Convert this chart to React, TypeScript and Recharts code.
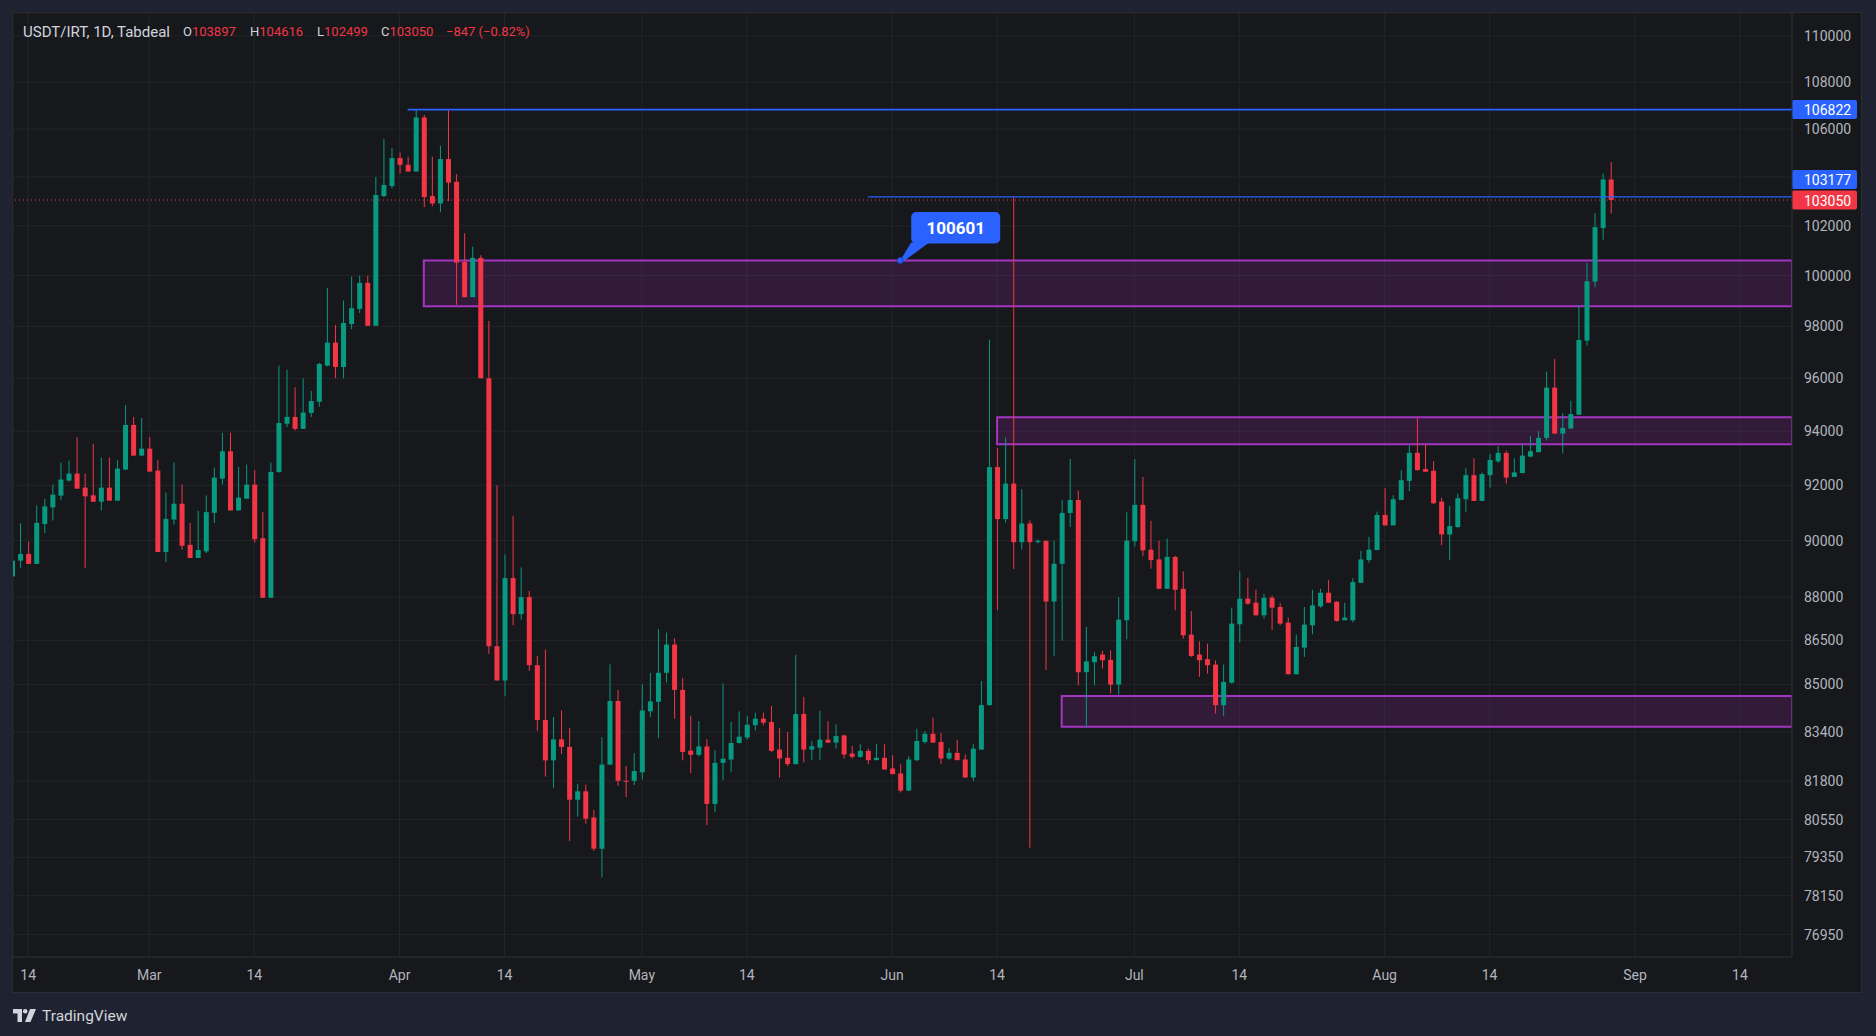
import React from 'react';
import {
  ComposedChart,
  Bar,
  XAxis,
  YAxis,
  CartesianGrid,
  ReferenceLine,
  ReferenceArea,
  ReferenceDot,
} from 'recharts';

// ---------- data (daily candles, Feb 12 2025 .. Aug 29 2025) ----------
const FIRST_DAY = -17; // day index of Feb 12, counted from Mar 1 = 0

const opens = [
  88725, 89286, 89520, 89169, 90598, 91195, 91622, 92172, 92430, 91915, 91634, 91402, 91915, 91439, 92577, 94235, 93092,
  93350, 92540, 89591, 90756, 91329, 89848, 89380, 89614, 91000, 92245, 93252, 91085, 91512, 92025, 90085, 87977, 92490, 94280, 94535, 94089, 94688, 95108, 96484, 97369, 96432, 98092, 98684, 99711, 98026, 103213, 103627,
  104783, 104503, 104224, 106490, 103213, 102910, 104741, 103800, 100544, 99145, 100707, 96000, 86298, 85130, 88667, 87406, 88000, 85649, 83803, 82468, 83160, 82910, 81188, 81460, 80618, 79622, 82329, 84438, 81800, 81800,
  82078, 84092, 84410, 85389, 86356, 84813, 82788, 82650, 82927, 81053, 82385, 82496, 83040, 83222, 83630, 83848, 83736, 82823, 82552, 82345, 84004, 82823, 82889, 83150, 83052, 83291, 82693, 82584, 82780, 82475, 82552,
  82204, 82040, 81482, 82475, 83073, 83345, 83073, 82530, 82714, 82497, 81909, 82823, 84300, 92668, 90772, 92063, 89944, 90614, 89944, 89990, 87845, 89173, 90993, 91464, 85410, 85750, 86012, 85830, 84990, 87192,
  89977, 91288, 89674, 89326, 88291, 89419, 88291, 86696, 86012, 85853, 85670, 84297, 85057, 87054, 87942, 87804, 87365, 87977, 87654, 87111, 85341, 86250, 87020, 87677, 88151, 87838, 87192, 87192, 88500, 89302, 89663,
  90921, 90545, 91467, 92161, 93193, 92596, 92534, 91406, 90218, 90485, 91491, 92372, 91430, 92372, 92882, 93193, 92310, 92447, 93056, 93218, 93752, 95642, 93913, 94100, 94617, 97448, 99763, 101907, 103897,
];

const highs = [
  89350, 90622, 89965, 91268, 91512, 92025, 92834, 92908, 93779, 92430, 93534, 93018, 93018, 92920, 94976, 94531, 94494,
  93779, 92920, 91732, 92834, 92025, 90634, 91073, 91634, 92650, 93939, 93939, 92675, 92760, 92552, 91024, 92834, 96484, 96327, 95656, 96000, 95516, 96588, 99513, 98053, 99013, 99961, 100000, 100000, 104000, 105580, 105203,
  105021, 104839, 106822, 106600, 104839, 105300, 106800, 104110, 101700, 101156, 100816, 98213, 92000, 89500, 90893, 89045, 88212, 85966, 86183, 83904, 84120, 83544, 81705, 81678, 80863, 83233, 85678, 84813, 82287, 82704,
  85000, 85389, 86886, 86767, 86574, 85216, 83948, 83760, 83164, 82800, 85029, 83737, 84092, 83948, 84049, 84049, 84273, 83534, 83400, 85996, 84575, 83106, 84105, 83769, 83657, 83320, 82943, 82998, 82856, 82998, 82998,
  82638, 82345, 82606, 83512, 83433, 83881, 83378, 82877, 83150, 82660, 82998, 85112, 97488, 93375, 93762, 103177, 91858, 90726, 90050, 90000, 90000, 91464, 92975, 91810, 86969, 86100, 86136, 86159, 88000, 91018,
  92963, 92307, 90712, 90000, 90074, 89450, 88908, 87515, 86466, 86386, 85818, 85670, 87631, 88908, 88675, 88256, 88117, 88059, 87804, 87285, 86696, 87654, 88256, 88291, 88605, 87860, 87804, 88663, 89628, 90135, 91043,
  91891, 91636, 92559, 93466, 94500, 93503, 92882, 91551, 91248, 91697, 92633, 92994, 92472, 93155, 93441, 93280, 92994, 93503, 93814, 94000, 96256, 96744, 94679, 95148, 98816, 100507, 102513, 104135, 104616,
];

const lows = [
  88700, 89029, 89169, 89169, 90268, 90720, 91451, 92135, 91878, 89029, 91402, 91085, 91439, 91439, 92552, 93092, 93092,
  92503, 89591, 89228, 90573, 89672, 89380, 89380, 89555, 90634, 92025, 91085, 91085, 91512, 89930, 87977, 87977, 92460, 94153, 94025, 94089, 94535, 94917, 96458, 96000, 96000, 97895, 98526, 98026, 98026, 103172, 103531,
  104140, 104224, 104224, 102758, 102800, 102552, 103007, 98842, 99145, 99145, 96000, 86039, 85130, 84597, 87020, 87213, 85461, 83443, 81939, 81569, 82676, 79868, 80645, 80414, 79555, 78716, 82329, 81637, 81270, 81664,
  81842, 83904, 83200, 85072, 83846, 82468, 82050, 82600, 80373, 80781, 81814, 82079, 83020, 83150, 83456, 83624, 82747, 81909, 82279, 82345, 82399, 82475, 82475, 83040, 82856, 82530, 82530, 82552, 82345, 82475, 82171,
  82018, 81419, 81482, 82442, 83018, 83052, 82345, 82475, 82475, 81909, 81789, 82823, 84283, 87542, 90646, 88989, 89680, 79653, 89900, 85484, 85972, 86490, 90491, 84969, 83560, 84969, 85534, 84690, 84654, 86535,
  89791, 89442, 89000, 88291, 88291, 87538, 86558, 85932, 85250, 85364, 84018, 83940, 85023, 86419, 87734, 87365, 87250, 86850, 87020, 85341, 85341, 85932, 86708, 87631, 87804, 87146, 87192, 87123, 88500, 89210, 89651,
  90545, 90545, 91467, 91782, 92534, 92497, 91321, 89835, 89306, 90460, 91030, 91430, 91430, 91915, 92820, 92062, 92310, 92447, 93030, 93218, 93653, 93913, 93170, 94100, 94617, 97256, 99539, 101440, 102499,
];

const closes = [
  89286, 89520, 89169, 90634, 91232, 91659, 92209, 92430, 91878, 91598, 91402, 91915, 91439, 92613, 94235, 93092, 93350,
  92503, 89591, 90780, 91329, 89813, 89380, 89661, 91024, 92282, 93252, 91085, 91549, 92025, 90049, 87977, 92490, 94306, 94535, 94089, 94701, 95134, 96549, 97369, 96432, 98132, 98711, 99711, 98026, 103255, 103669, 104783,
  104503, 104224, 106490, 103172, 102910, 104741, 103766, 100517, 99145, 100707, 96000, 86298, 85130, 88667, 87406, 88000, 85649, 83803, 82468, 83160, 82910, 81188, 81460, 80577, 79622, 82329, 84438, 81800, 81770, 82120,
  84120, 84424, 85389, 86356, 84813, 82746, 82650, 82927, 81053, 82385, 82524, 83040, 83250, 83645, 83846, 83713, 82780, 82530, 82345, 84004, 82823, 82932, 83150, 83052, 83269, 82660, 82584, 82780, 82475, 82552, 82171,
  82018, 81482, 82497, 83106, 83345, 83052, 82530, 82714, 82475, 81909, 82856, 84300, 92668, 90772, 92063, 89944, 90614, 89944, 89990, 87845, 89173, 90993, 91464, 85410, 85777, 85954, 85819, 84990, 87215, 90000,
  91288, 89651, 89302, 88291, 89419, 88256, 86673, 85966, 85819, 85648, 84297, 85080, 87077, 87942, 87769, 87365, 87977, 87631, 87077, 85341, 86273, 87042, 87711, 88151, 87804, 87169, 87285, 88524, 89326, 89674, 90920,
  90545, 91491, 92186, 93193, 92559, 92497, 91346, 90218, 90521, 91527, 92372, 91430, 92410, 92932, 93193, 92285, 92472, 93093, 93255, 93752, 95642, 93913, 94124, 94642, 97474, 99776, 101947, 103897, 103050,
];

// axis ticks
const xTickDays = [-15, 0, 13, 31, 44, 61, 74, 92, 105, 122, 135, 153, 166, 184, 197];
const xTickLabels = ['14', 'Mar', '14', 'Apr', '14', 'May', '14', 'Jun', '14', 'Jul', '14', 'Aug', '14', 'Sep', '14'];
const yTicks = [110000, 108000, 106000, 104000, 102000, 100000, 98000, 96000, 94000, 92000, 90000, 88000, 86500, 85000, 83400, 81800, 80550, 79350, 78150, 76950];
const hiddenYLabels = [104000];

// drawings
const resistanceLevel = 106822;
const resistanceStartDay = 32;
const rayLevel = 103177;
const rayStartDay = 89;
const lastPrice = 103050;
const zoneStarts = [34, 105, 113];
const zoneLows = [98790, 93510, 83580];
const zoneHighs = [100601, 94520, 84610];
const calloutDay = 93;
const calloutValue = 100601;

// header legend
const symbolText = 'USDT/IRT, 1D, Tabdeal';
const legendKeys = ['O', 'H', 'L', 'C'];
const legendValues = ['103897', '104616', '102499', '103050'];
const changeText = '\u2212847 (\u22120.82%)';

// ---------- layout / style ----------
const W = 1876;
const H = 1036;
const PLOT_L = 13;
const PLOT_T = 13;
const PLOT_R = 1792;
const PLOT_B = 957;
const PANEL_R = 1861;
const PANEL_B = 992;
const X_DOMAIN: [number, number] = [-16.88, 203.45];
const Y_DOMAIN: [number, number] = [76266, 111006];

const FONT = 'Roboto, "Noto Sans", Arial, sans-serif';
const UP = '#089981';
const DOWN = '#f23645';
const BLUE = '#2962ff';
const GRID = '#232529';
const SEP = '#2a2d33';
const TXT = '#b2b5be';
const CHART_BG = '#17181c';
const OUTER_BG = '#1f2230';
const ZONE_STROKE = '#a335c0';
const ZONE_FILL = 'rgba(156, 39, 176, 0.2)';

const data = opens.map((o, i) => {
  const c = closes[i];
  return {
    d: FIRST_DAY + i,
    o,
    h: highs[i],
    l: lows[i],
    c,
    hl: [lows[i], highs[i]],
    oc: [Math.min(o, c), Math.max(o, c)],
  };
});

const Wick = (p: any) => {
  const { x, y, width, height, payload } = p;
  if (x == null || y == null || !payload) return null;
  const top = Math.min(y, y + height);
  const h = Math.max(Math.abs(height), 1);
  const col = payload.c >= payload.o ? UP : DOWN;
  return <rect x={x + width / 2 - 0.5} y={top} width={1} height={h} fill={col} />;
};

const Body = (p: any) => {
  const { x, y, width, height, payload } = p;
  if (x == null || y == null || !payload) return null;
  const top = Math.min(y, y + height);
  const h = Math.max(Math.abs(height), 1);
  const col = payload.c >= payload.o ? UP : DOWN;
  return <rect x={x} y={top} width={width} height={h} fill={col} />;
};

const XTick = (p: any) => {
  const { x, payload } = p;
  const idx = xTickDays.indexOf(payload.value);
  if (idx < 0) return null;
  return (
    <text x={x} y={PLOT_B + 18} textAnchor="middle" dominantBaseline="central" fill={TXT} fontSize={14} fontFamily={FONT}>
      {xTickLabels[idx]}
    </text>
  );
};

const YTick = (p: any) => {
  const { y, payload } = p;
  if (hiddenYLabels.includes(payload.value)) return null;
  return (
    <text x={PLOT_R + 12} y={y} textAnchor="start" dominantBaseline="central" fill={TXT} fontSize={14} fontFamily={FONT}>
      {String(payload.value)}
    </text>
  );
};

const makeBadge = (value: number, color: string, dy: number) => (props: any) => {
  const vb = props.viewBox;
  if (!vb) return null;
  const right = vb.x + vb.width;
  const cy = vb.y + dy;
  return (
    <g>
      <rect x={right} y={cy - 9.5} width={65} height={19} rx={2} fill={color} />
      <text x={right + 12} y={cy + 0.5} dominantBaseline="central" fill="#ffffff" fontSize={14} fontFamily={FONT}>
        {String(value)}
      </text>
    </g>
  );
};

const Callout = (p: any) => {
  const { cx, cy } = p;
  if (cx == null || cy == null) return null;
  return (
    <g>
      <polygon
        points={`${cx},${cy} ${cx + 11},${cy - 18} ${cx + 29},${cy - 18} ${cx + 3},${cy + 1}`}
        fill={BLUE}
      />
      <rect x={cx + 11} y={cy - 48.5} width={89} height={31.5} rx={5} fill={BLUE} />
      <circle cx={cx} cy={cy} r={3} fill={BLUE} stroke="#1c3fb0" strokeWidth={1} />
      <text
        x={cx + 55.5}
        y={cy - 32.5}
        textAnchor="middle"
        dominantBaseline="central"
        fill="#ffffff"
        fontSize={17}
        fontWeight={700}
        fontFamily={FONT}
      >
        {String(calloutValue)}
      </text>
    </g>
  );
};

const TvLogo = () => (
  <svg width={24} height={14} viewBox="0 0 24 14" style={{ position: 'absolute', left: 13, top: 1009 }}>
    <path d="M0 0 H9 V13 H4.5 V4.5 H0 Z" fill="#d1d4dc" />
    <circle cx={12.2} cy={2.3} r={2.3} fill="#d1d4dc" />
    <path d="M17 0 H23 L17.5 13 H12 Z" fill="#d1d4dc" />
  </svg>
);

export default function App() {
  const legendLefts = [183, 250, 317, 381];
  return (
    <div style={{ position: 'absolute', left: 0, top: 0, width: W, height: H, background: OUTER_BG, overflow: 'hidden' }}>
      <div
        style={{
          position: 'absolute',
          left: PLOT_L - 1,
          top: PLOT_T - 1,
          width: PANEL_R - PLOT_L + 2,
          height: PANEL_B - PLOT_T + 2,
          background: CHART_BG,
          border: `1px solid ${SEP}`,
          boxSizing: 'border-box',
        }}
      />
      <div style={{ position: 'absolute', left: 0, top: 0 }}>
        <ComposedChart
          width={W}
          height={H}
          data={data}
          margin={{ top: PLOT_T, left: PLOT_L, right: W - PLOT_R - 68, bottom: H - PLOT_B - 35 }}
        >
          <CartesianGrid stroke={GRID} strokeWidth={1} />
          <XAxis
            dataKey="d"
            type="number"
            domain={X_DOMAIN}
            allowDataOverflow
            ticks={xTickDays}
            interval={0}
            tick={XTick}
            tickLine={false}
            axisLine={{ stroke: SEP }}
            height={35}
          />
          <XAxis xAxisId="w" dataKey="d" type="number" domain={X_DOMAIN} allowDataOverflow hide />
          <YAxis
            type="number"
            scale="log"
            domain={Y_DOMAIN}
            allowDataOverflow
            ticks={yTicks}
            interval={0}
            orientation="right"
            width={68}
            tick={YTick}
            tickLine={false}
            axisLine={{ stroke: SEP }}
          />
          {zoneStarts.map((s, i) => (
            <ReferenceArea
              key={`z${i}`}
              x1={s}
              x2={X_DOMAIN[1]}
              y1={zoneLows[i]}
              y2={zoneHighs[i]}
              fill={ZONE_FILL}
              fillOpacity={1}
              stroke={ZONE_STROKE}
              strokeWidth={2}
              ifOverflow="hidden"
            />
          ))}
          <ReferenceLine y={lastPrice} stroke={DOWN} strokeDasharray="1 3" strokeWidth={1} />
          <ReferenceLine
            segment={[
              { x: resistanceStartDay, y: resistanceLevel },
              { x: X_DOMAIN[1], y: resistanceLevel },
            ]}
            stroke={BLUE}
            strokeWidth={1.6}
          />
          <ReferenceLine
            segment={[
              { x: rayStartDay, y: rayLevel },
              { x: X_DOMAIN[1], y: rayLevel },
            ]}
            stroke={BLUE}
            strokeWidth={1.3}
          />
          <Bar xAxisId="w" dataKey="hl" barSize={1} shape={Wick} isAnimationActive={false} />
          <Bar dataKey="oc" barSize={5} shape={Body} isAnimationActive={false} />
          <ReferenceDot x={calloutDay} y={calloutValue} r={3} shape={Callout} ifOverflow="visible" />
          <ReferenceLine y={resistanceLevel} stroke="none" label={makeBadge(resistanceLevel, BLUE, 0)} />
          <ReferenceLine y={rayLevel} stroke="none" label={makeBadge(rayLevel, BLUE, -17.5)} />
          <ReferenceLine y={lastPrice} stroke="none" label={makeBadge(lastPrice, DOWN, 0)} />
        </ComposedChart>
      </div>
      <div style={{ position: 'absolute', left: 0, top: 24, fontFamily: FONT, lineHeight: '16px', color: '#d1d4dc', whiteSpace: 'nowrap' }}>
        <span style={{ position: 'absolute', left: 23, fontSize: 15 }}>{symbolText}</span>
        {legendKeys.map((k, i) => (
          <span key={k} style={{ position: 'absolute', left: legendLefts[i], fontSize: 13 }}>
            {k}
            <span style={{ color: DOWN }}>{legendValues[i]}</span>
          </span>
        ))}
        <span style={{ position: 'absolute', left: 446, color: DOWN, fontSize: 13 }}>{changeText}</span>
      </div>
      <TvLogo />
      <div style={{ position: 'absolute', left: 42, top: 1007, fontFamily: FONT, fontSize: 15.5, lineHeight: '18px', color: '#d1d4dc' }}>
        TradingView
      </div>
    </div>
  );
}
